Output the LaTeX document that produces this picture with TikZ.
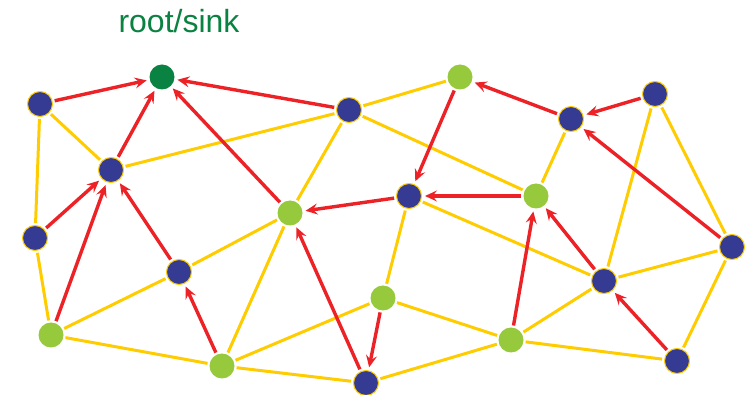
\documentclass[tikz,border=0pt]{standalone}
\usepackage{fontspec}
\setmainfont{Liberation Sans}
\usetikzlibrary{arrows.meta}
\definecolor{linkred}{RGB}{236,34,39}
\definecolor{linkyellow}{RGB}{255,204,0}
\definecolor{motenavy}{RGB}{53,58,147}
\definecolor{motelime}{RGB}{151,201,61}
\definecolor{sinkgreen}{RGB}{10,130,65}
\begin{document}
\begin{tikzpicture}[x=1pt, y=-1pt,
    mote/.style={circle, minimum size=25pt, inner sep=0pt},
    navy/.style={mote, fill=motenavy, draw=linkyellow, line width=1pt},
    lime/.style={mote, fill=motelime},
    sink/.style={mote, minimum size=25pt, fill=sinkgreen},
    radio/.style={draw=linkyellow, line width=3pt, shorten <=2pt, shorten >=2pt},
    parent/.style={draw=linkred, line width=3.4pt, shorten <=2pt, shorten >=3pt,
        -{Stealth[length=12pt, width=11pt, inset=4.5pt]}}]
    \useasboundingbox (0, 0) rectangle (745, 395);
    % nodes
    \node[sink] (root) at (162, 77) {};
    \node[navy] (a) at (40, 104) {};
    \node[navy] (b) at (111, 170) {};
    \node[navy] (c) at (349, 110) {};
    \node[lime] (d) at (460, 77) {};
    \node[navy] (e) at (571, 119) {};
    \node[navy] (f) at (655, 94) {};
    \node[navy] (g) at (409, 196) {};
    \node[lime] (h) at (536, 196) {};
    \node[lime] (i) at (290, 213) {};
    \node[navy] (j) at (35, 238) {};
    \node[navy] (k) at (179, 272) {};
    \node[lime] (l) at (51, 335) {};
    \node[lime] (m) at (222, 366) {};
    \node[navy] (n) at (366, 383) {};
    \node[lime] (o) at (383, 298) {};
    \node[lime] (p) at (511, 340) {};
    \node[navy] (q) at (604, 281) {};
    \node[navy] (s) at (732, 247) {};
    \node[navy] (t) at (677, 361) {};
    \node[text=sinkgreen, font=\fontsize{32}{38}\selectfont, anchor=base] (label) at (179, 33) {root/sink};
    % radio links
    \draw[radio] (a) -- (b);
    \draw[radio] (a) -- (j);
    \draw[radio] (j) -- (l);
    \draw[radio] (b) -- (c);
    \draw[radio] (c) -- (d);
    \draw[radio] (c) -- (h);
    \draw[radio] (c) -- (i);
    \draw[radio] (e) -- (h);
    \draw[radio] (f) -- (q);
    \draw[radio] (f) -- (s);
    \draw[radio] (g) -- (q);
    \draw[radio] (g) -- (o);
    \draw[radio] (s) -- (q);
    \draw[radio] (s) -- (t);
    \draw[radio] (o) -- (m);
    \draw[radio] (o) -- (p);
    \draw[radio] (p) -- (n);
    \draw[radio] (p) -- (q);
    \draw[radio] (p) -- (t);
    \draw[radio] (l) -- (k);
    \draw[radio] (l) -- (m);
    \draw[radio] (m) -- (i);
    \draw[radio] (m) -- (n);
    \draw[radio] (k) -- (i);
    % routing tree
    \draw[parent] (a) -- (root);
    \draw[parent] (b) -- (root);
    \draw[parent] (i) -- (root);
    \draw[parent] (c) -- (root);
    \draw[parent] (j) -- (b);
    \draw[parent] (l) -- (b);
    \draw[parent] (k) -- (b);
    \draw[parent] (m) -- (k);
    \draw[parent] (d) -- (g);
    \draw[parent] (e) -- (d);
    \draw[parent] (f) -- (e);
    \draw[parent] (s) -- (e);
    \draw[parent] (g) -- (i);
    \draw[parent] (h) -- (g);
    \draw[parent] (n) -- (i);
    \draw[parent] (o) -- (n);
    \draw[parent] (p) -- (h);
    \draw[parent] (q) -- (h);
    \draw[parent] (t) -- (q);
\end{tikzpicture}
\end{document}
